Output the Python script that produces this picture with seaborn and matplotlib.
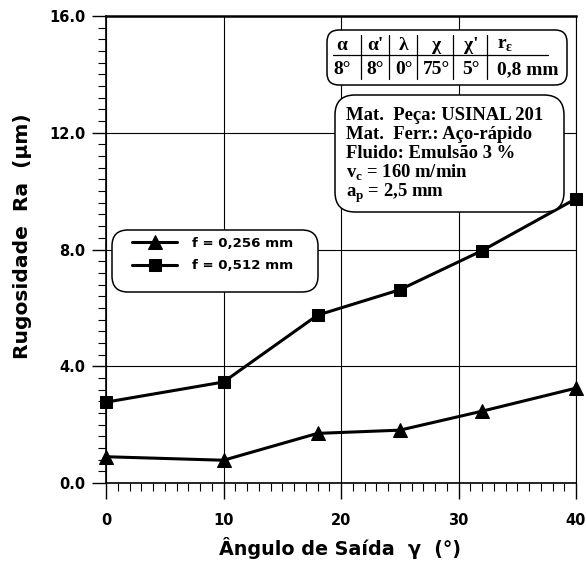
import matplotlib
matplotlib.use("Agg")
import matplotlib.pyplot as plt
import numpy as np
import pandas as pd
import seaborn as sns
from matplotlib.patches import FancyBboxPatch
from matplotlib.transforms import Affine2D
from matplotlib.ticker import MultipleLocator, FormatStrFormatter, FixedLocator

# ---- data -------------------------------------------------------------
angles = [0, 10, 18, 25, 32, 40]                       # rake angle gamma (deg)
ra_f0256 = [0.90, 0.78, 1.70, 1.81, 2.46, 3.25]        # Ra (um), f = 0,256 mm
ra_f0512 = [2.77, 3.46, 5.75, 6.62, 7.96, 9.74]        # Ra (um), f = 0,512 mm
series_labels = ["f = 0,256 mm", "f = 0,512 mm"]

x_ticks = [0, 10, 20, 30, 40]
y_ticks = [0.0, 4.0, 8.0, 12.0, 16.0]

tool_headers = ["α", "α'", "λ", "χ", "χ'", r"r$_{\mathregular{ε}}$"]
tool_values = ["8°", "8°", "0°", "75°", "5°", "0,8 mm"]
conditions = [
    "Mat.  Peça: USINAL 201",
    "Mat.  Ferr.: Aço-rápido",
    "Fluido: Emulsão 3 %",
    r"v$_{\mathregular{c}}$ = 160 m/min",
    r"a$_{\mathregular{p}}$ = 2,5 mm",
]

# ---- style ------------------------------------------------------------
sns.set_theme(style="white")
plt.rcParams["font.family"] = ["DejaVu Sans"]
plt.rcParams["font.weight"] = "bold"
plt.rcParams["axes.labelweight"] = "bold"
for key in ["text.color", "axes.labelcolor", "xtick.color", "ytick.color",
            "axes.edgecolor"]:
    plt.rcParams[key] = "black"

W, H = 586, 566
fig = plt.figure(figsize=(W / 100, H / 100), dpi=100)
ax = fig.add_axes([106 / W, (H - 483) / H, (576 - 106) / W, (483 - 16) / H])

# pixel coordinates, origin at top-left
pix = Affine2D().scale(1 / 100, -1 / 100).translate(0, H / 100) + fig.dpi_scale_trans

df = pd.DataFrame({
    "angle": angles * 2,
    "ra": ra_f0256 + ra_f0512,
    "feed": [series_labels[0]] * len(angles) + [series_labels[1]] * len(angles),
})

sns.lineplot(
    data=df, x="angle", y="ra", hue="feed", style="feed",
    markers={series_labels[0]: "^", series_labels[1]: "s"},
    dashes=False, palette=["black", "black"],
    markersize=10, linewidth=2.2, markeredgecolor="black",
    legend=False, ax=ax, zorder=4, clip_on=False,
)
ax.lines[1].set_markersize(9.3)

ax.set_xlim(0, 40)
ax.set_ylim(0, 16)
ax.xaxis.set_major_locator(FixedLocator(x_ticks))
ax.yaxis.set_major_locator(FixedLocator(y_ticks))
ax.xaxis.set_minor_locator(MultipleLocator(1))
ax.yaxis.set_minor_locator(MultipleLocator(0.4))
ax.yaxis.set_major_formatter(FormatStrFormatter("%.1f"))
ax.xaxis.set_major_formatter(FormatStrFormatter("%d"))

ax.tick_params(axis="x", which="major", direction="out", length=11.5, width=1.0,
               pad=10, labelsize=10.5, colors="black")
ax.tick_params(axis="y", which="major", direction="out", length=10, width=1.0,
               pad=5, labelsize=10.5, colors="black")
ax.tick_params(axis="both", which="minor", direction="out", length=5.5, width=0.8,
               colors="black")
ax.tick_params(bottom=True, left=True, which="both")
for lab in ax.get_xticklabels() + ax.get_yticklabels():
    lab.set_fontweight("bold")

ax.grid(True, which="major", color="black", linewidth=0.8)
ax.set_axisbelow(True)

for side, lw in [("top", 1.8), ("right", 0.8), ("left", 1.2), ("bottom", 1.2)]:
    ax.spines[side].set_visible(True)
    ax.spines[side].set_color("black")
    ax.spines[side].set_linewidth(lw)

ax.set_xlabel("Ângulo de Saída  γ  (°)", fontsize=13.8, fontweight="bold")
ax.set_ylabel("Rugosidade  Ra  (µm)", fontsize=14.6, fontweight="bold")
ax.xaxis.label.set_va("center")
ax.yaxis.label.set_va("center")
ax.xaxis.set_label_coords((340 - 106) / 470, (483 - 548) / 467)
ax.yaxis.set_label_coords((23 - 106) / 470, (483 - 236) / 467)


def rounded_box(x0, y0, x1, y1, radius):
    box = FancyBboxPatch(
        (x0, y0), x1 - x0, y1 - y0,
        boxstyle=f"round,pad=0,rounding_size={radius}",
        transform=pix, facecolor="white", edgecolor="black",
        linewidth=1.1, zorder=5, clip_on=False,
    )
    ax.add_patch(box)


# legend
rounded_box(112, 230, 318, 292, 16)
leg = ax.legend(
    ax.lines[:2], series_labels, loc="upper left",
    bbox_to_anchor=(132, 237), bbox_transform=pix, frameon=False,
    borderpad=0, borderaxespad=0, handlelength=3.4, handletextpad=1.1,
    labelspacing=0.7, prop=dict(family="DejaVu Sans", weight="bold", size=9.6),
)
leg.set_zorder(7)

serif = dict(family=["Liberation Serif", "DejaVu Serif"], weight="bold",
             color="black")

# tool geometry table
rounded_box(327, 30, 567, 85, 12)
col_x = [342, 375, 404, 437, 471, 497]
for i, (hd, val) in enumerate(zip(tool_headers, tool_values)):
    ha = "left" if i == len(col_x) - 1 else "center"
    ax.text(col_x[i], 45, hd, transform=pix, ha=ha, va="center",
            fontsize=14, zorder=7, **serif)
    ax.text(col_x[i], 70, val, transform=pix, ha=ha, va="center",
            fontsize=14, zorder=7, **serif)
for sx in [361, 389, 417, 453, 487]:
    ax.plot([sx, sx], [35, 79], transform=pix, color="black", lw=0.9,
            zorder=7, clip_on=False)
ax.plot([333, 548], [55, 55], transform=pix, color="black", lw=0.9,
        zorder=7, clip_on=False)

# cutting conditions
rounded_box(335, 95, 564, 212, 20)
for k, line in enumerate(conditions):
    ax.text(346, 120 + k * 19.2, line, transform=pix, ha="left",
            va="baseline", fontsize=13.4, zorder=7, **serif)

fig.savefig("out.png", dpi=100)
